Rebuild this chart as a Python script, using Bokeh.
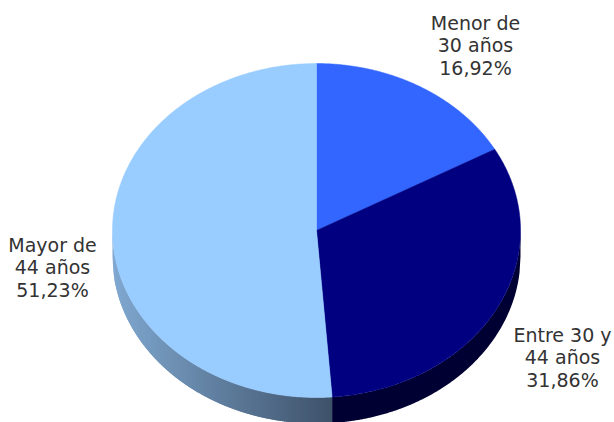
import numpy as np
from bokeh.plotting import figure
from bokeh.models import Range1d
from bokeh.core.properties import value
from bokeh.embed import file_html
from bokeh.resources import INLINE

categories = ["Menor de\n30 años", "Entre 30 y\n44 años", "Mayor de\n44 años"]
shares = [16.92, 31.86, 51.22]
shown = ["16,92%", "31,86%", "51,23%"]
top_colors = ["#3366FF", "#000080", "#99CCFF"]

# layout (page pixels)
W, H = 614, 422
CX, CY, RX, RY, DEPTH = 316, 230, 204, 167, 26
label_px = [(475, 11), (562, 323), (52, 233)]
dark_side = "#000033"
grad_l, grad_r = np.array([128, 168, 208]), np.array([62, 82, 106])

p = figure(width=W, height=H, toolbar_location=None, output_backend="svg",
           x_range=Range1d((0 - CX) / RX, (W - CX) / RX),
           y_range=Range1d((CY - H) / RY, CY / RY),
           min_border=0, x_axis_type=None, y_axis_type=None,
           outline_line_color=None, background_fill_color="white",
           border_fill_color="white")
p.grid.visible = False

d = DEPTH / RY
edges = np.cumsum([0] + shares) / sum(shares) * 2 * np.pi

# side of the disc: strips painted left to right, each running under the next
split = np.sin(edges[2])
xs, ys, cs = [], [], []
sx = np.linspace(-1, split, 110)
for i, a in enumerate(sx[:-1]):
    b = sx[min(i + 2, len(sx) - 1)]
    u = np.linspace(a, b, 6)
    top = -np.sqrt(np.clip(1 - u**2, 0, 1))
    xs.append(list(u) + list(u[::-1]))
    ys.append(list(top) + list((top - d)[::-1]))
    t = (a + 1) / (split + 1)
    c = grad_l + (grad_r - grad_l) * t
    cs.append("#%02x%02x%02x" % tuple(int(v) for v in c))
p.patches(xs, ys, fill_color=cs, line_color=None)

u = np.linspace(split, 1, 200)
top = -np.sqrt(np.clip(1 - u**2, 0, 1))
p.patch(list(u) + list(u[::-1]), list(top) + list((top - d)[::-1]),
        fill_color=dark_side, line_color=None)
# top face
for a0, a1, col in zip(edges[:-1], edges[1:], top_colors):
    t = np.linspace(a0, a1, 240)
    p.patch([0] + list(np.sin(t)), [0] + list(np.cos(t)),
            fill_color=col, line_color=col, line_width=0.5)

# labels
lx = [(x - CX) / RX for x, _ in label_px]
ly = [(CY - y) / RY for _, y in label_px]
texts = [f"{c}\n{s}" for c, s in zip(categories, shown)]
p.text(lx, ly, text=texts, text_font=value("DejaVu Sans"), text_font_size="19px",
       text_color="#333333", text_align="center", text_baseline="top",
       text_line_height=1.04)

open("out.html", "w").write(file_html(p, INLINE))
